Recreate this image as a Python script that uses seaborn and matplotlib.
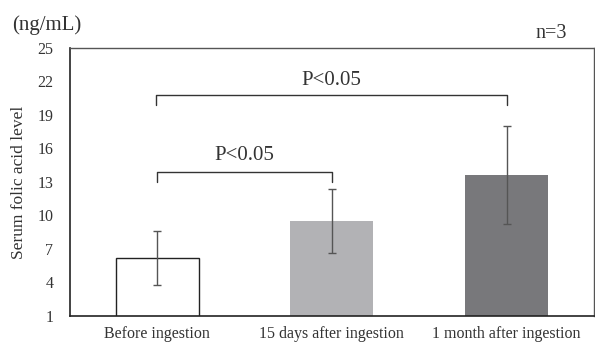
import matplotlib
matplotlib.use("Agg")
import matplotlib.pyplot as plt
import seaborn as sns
import pandas as pd

# values
groups = ["Before ingestion", "15 days after ingestion", "1 month after ingestion"]
means = [6.2, 9.5, 13.6]
sds = [2.4, 2.9, 4.4]
bar_colors = ["#ffffff", "#b1b2b6", "#77787c"]
yticks = [1, 4, 7, 10, 13, 16, 19, 22, 25]

sns.set_theme(style="white")
plt.rcParams["font.family"] = ["Liberation Serif", "DejaVu Serif"]

df = pd.DataFrame({"group": groups, "mean": means})

fig = plt.figure(figsize=(5.95, 3.44), dpi=100)
ax = fig.add_axes([0.1176, 0.0814, 0.8804, 0.7791])

sns.barplot(data=df, x="group", y="mean", hue="group", palette=bar_colors,
            width=0.475, edgecolor="none", legend=False, ax=ax)
# only the first bar has an outline
ax.patches[0].set_edgecolor("#222222")
ax.patches[0].set_linewidth(1.0)

ax.errorbar(range(len(groups)), means, yerr=sds, fmt="none",
            ecolor="#555555", elinewidth=1.0, capsize=3, capthick=1.0)

ax.set_xlim(-0.5, 2.5)
ax.set_ylim(1, 25)
ax.set_yticks(yticks)
ax.tick_params(axis="both", length=0, labelsize=11.5, colors="#333333")
ax.tick_params(axis="y", pad=12)
ax.tick_params(axis="x", pad=7)
ax.set_xlabel("")
ax.set_ylabel("Serum folic acid level", fontsize=12.5, color="#333333")
ax.yaxis.set_label_coords(-0.082, 0.5)

for side in ["left", "bottom"]:
    ax.spines[side].set_color("#222222")
    ax.spines[side].set_linewidth(1.2)
for side in ["top", "right"]:
    ax.spines[side].set_color("#555555")
    ax.spines[side].set_linewidth(1.0)


def bracket(x0, x1, y, drop, label, ty):
    ax.plot([x0, x0, x1, x1], [y - drop, y, y, y - drop], color="#333333", lw=1.0)
    ax.text((x0 + x1) / 2, ty, label, ha="center", va="center", fontsize=15, color="#333333")


bracket(0.0, 1.0, 13.9, 0.9, "P<0.05", 15.4)
bracket(-0.01, 2.0, 20.8, 0.9, "P<0.05", 22.1)

fig.text(0.02, 0.927, "(ng/mL)", fontsize=15, color="#333333", va="center")
fig.text(0.9, 0.904, "n=3", fontsize=14.5, color="#333333", va="center")

fig.savefig("out.png", dpi=100)
